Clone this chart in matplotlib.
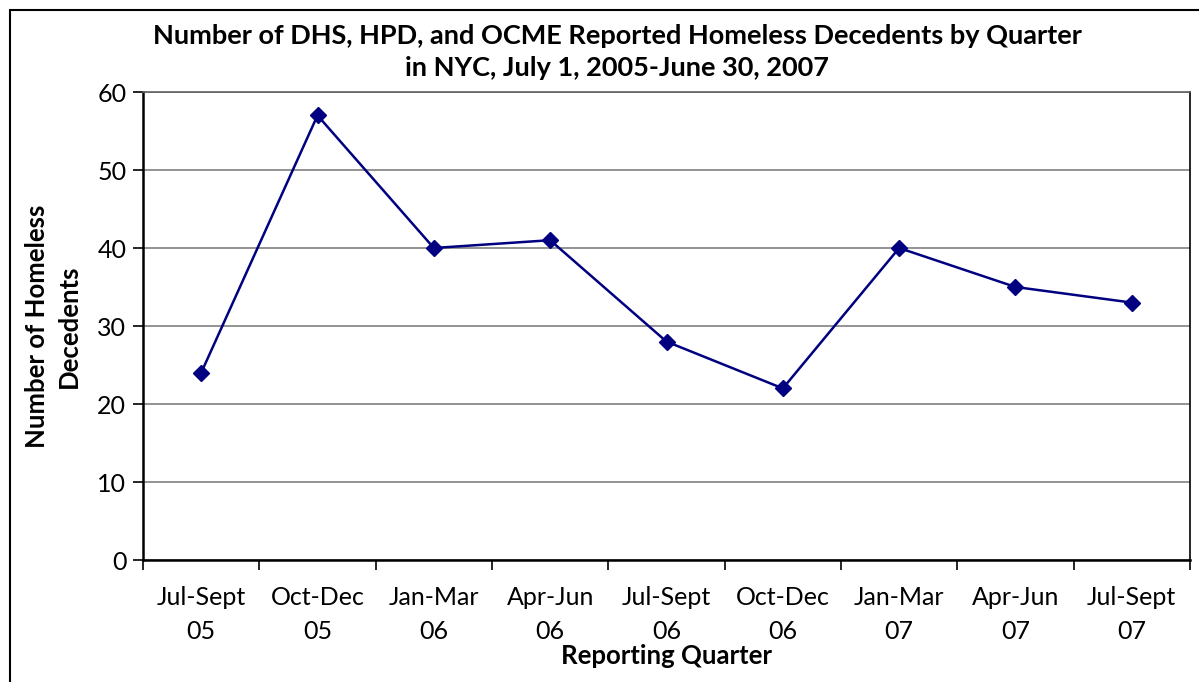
import matplotlib.pyplot as plt
from matplotlib.patches import Rectangle
from matplotlib.ticker import FixedLocator, NullFormatter

quarters = ["Jul-Sept\n05", "Oct-Dec\n05", "Jan-Mar\n06", "Apr-Jun\n06", "Jul-Sept\n06",
            "Oct-Dec\n06", "Jan-Mar\n07", "Apr-Jun\n07", "Jul-Sept\n07"]
decedents = [24, 57, 40, 41, 28, 22, 40, 35, 33]
y_ticks = [0, 10, 20, 30, 40, 50, 60]

plt.rcParams['font.family'] = ['Lato', 'DejaVu Sans']

fig = plt.figure(figsize=(11.99, 6.82), dpi=100)

# outer chart border
fig.patches.append(Rectangle((10 / 1199, -0.01), 1.0, 1 - 10 / 682 + 0.01,
                             transform=fig.transFigure, fill=False,
                             edgecolor='black', linewidth=1.5))

ax = fig.add_axes([143 / 1199, 1 - 560 / 682, 1047 / 1199, 468 / 682])

x = list(range(len(quarters)))
ax.plot(x, decedents, color='#000080', linewidth=1.8, marker='D', markersize=8,
        zorder=3)

ax.set_xlim(-0.5, len(quarters) - 0.5)
ax.set_ylim(0, 60)
ax.set_yticks(y_ticks)
ax.yaxis.grid(True, color='#808080', linewidth=1.2)
ax.set_axisbelow(True)

ax.set_xticks(x)
ax.set_xticklabels(quarters, fontsize=18, linespacing=1.55)
ax.tick_params(axis='x', which='major', length=0, pad=19)
ax.xaxis.set_minor_locator(FixedLocator([i - 0.5 for i in range(len(quarters) + 1)]))
ax.xaxis.set_minor_formatter(NullFormatter())
ax.tick_params(axis='x', which='minor', length=7, width=1.2, direction='out')
ax.tick_params(axis='y', length=7, width=1.2, labelsize=18, pad=5)

for side in ['left', 'bottom']:
    ax.spines[side].set_linewidth(1.8)
ax.spines['top'].set_color('#606060')
ax.spines['top'].set_linewidth(1.2)
ax.spines['right'].set_linewidth(1.2)

ax.set_xlabel("Reporting Quarter", fontsize=18.5, fontweight='bold', labelpad=1)
ax.set_ylabel("Number of Homeless\nDecedents", fontsize=18.5, fontweight='bold',
              labelpad=12, linespacing=1.4)

fig.text(617 / 1199, 1 - 52 / 682,
         "Number of DHS, HPD, and OCME Reported Homeless Decedents by Quarter\n"
         "in NYC, July 1, 2005-June 30, 2007",
         ha='center', va='center', fontsize=19.5, fontweight='bold', linespacing=1.4)

fig.savefig("out.png", dpi=100)
